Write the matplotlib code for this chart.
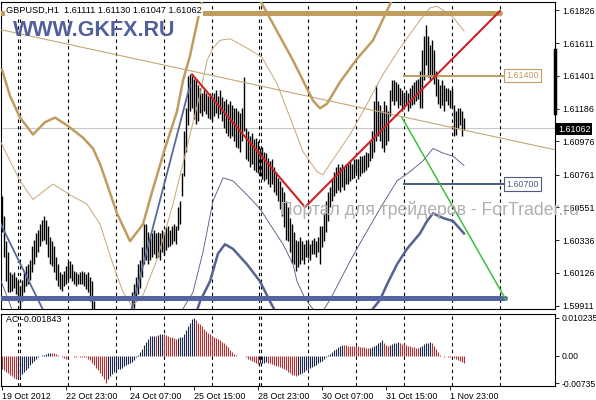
import numpy as np
import matplotlib.pyplot as plt

# GBPUSD H1 bars, bar index 0 = 19 Oct 2012 16:00 (2 px per bar on the chart)
bar_high = [
    1.6062, 1.6049, 1.6033, 1.6026, 1.6013, 1.6012, 1.6013, 1.6010, 1.6007, 1.6004,
    1.6008, 1.6013, 1.6017, 1.6018, 1.6021, 1.6030, 1.6034, 1.6038, 1.6040, 1.6044,
    1.6047, 1.6049, 1.6047, 1.6043, 1.6036, 1.6033, 1.6030, 1.6023, 1.6018, 1.6013,
    1.6012, 1.6014, 1.6017, 1.6020, 1.6020, 1.6018, 1.6014, 1.6013, 1.6012, 1.6013,
    1.6014, 1.6013, 1.6012, 1.6013, 1.6010, 1.6007, 1.5994, 1.5988, 1.5984, 1.5980,
    1.5978, 1.5975, 1.5972, 1.5970, 1.5972, 1.5974, 1.5976, 1.5975, 1.5977, 1.5978,
    1.5980, 1.5979, 1.5981, 1.5983, 1.5985, 1.6000, 1.6005, 1.6010, 1.6018, 1.6021,
    1.6029, 1.6044, 1.6044, 1.6039, 1.6036, 1.6038, 1.6040, 1.6038, 1.6039, 1.6038,
    1.6040, 1.6039, 1.6042, 1.6043, 1.6040, 1.6043, 1.6044, 1.6043, 1.6055, 1.6059,
    1.6077, 1.6104, 1.6119, 1.6140, 1.6141, 1.6140, 1.6138, 1.6137, 1.6134, 1.6132,
    1.6129, 1.6131, 1.6129, 1.6127, 1.6129, 1.6127, 1.6129, 1.6131, 1.6127, 1.6131,
    1.6126, 1.6124, 1.6125, 1.6122, 1.6124, 1.6121, 1.6119, 1.6119, 1.6117, 1.6116,
    1.6119, 1.6139, 1.6106, 1.6104, 1.6101, 1.6103, 1.6099, 1.6100, 1.6098, 1.6093,
    1.6094, 1.6091, 1.6090, 1.6087, 1.6085, 1.6086, 1.6081, 1.6078, 1.6074, 1.6072,
    1.6068, 1.6065, 1.6059, 1.6055, 1.6048, 1.6044, 1.6039, 1.6034, 1.6033, 1.6036,
    1.6033, 1.6031, 1.6034, 1.6033, 1.6031, 1.6034, 1.6035, 1.6033, 1.6036, 1.6043,
    1.6043, 1.6051, 1.6059, 1.6065, 1.6068, 1.6073, 1.6078, 1.6081, 1.6083, 1.6081,
    1.6083, 1.6081, 1.6083, 1.6083, 1.6085, 1.6083, 1.6086, 1.6086, 1.6086, 1.6088,
    1.6088, 1.6089, 1.6091, 1.6090, 1.6098, 1.6104, 1.6124, 1.6134, 1.6124, 1.6121,
    1.6117, 1.6124, 1.6121, 1.6117, 1.6131, 1.6137, 1.6137, 1.6136, 1.6135, 1.6132,
    1.6131, 1.6129, 1.6131, 1.6129, 1.6132, 1.6134, 1.6136, 1.6137, 1.6138, 1.6143,
    1.6157, 1.6166, 1.6173, 1.6166, 1.6160, 1.6163, 1.6157, 1.6143, 1.6138, 1.6134,
    1.6137, 1.6134, 1.6132, 1.6132, 1.6131, 1.6132, 1.6121, 1.6117, 1.6119, 1.6119,
    1.6117, 1.61130,
]
bar_low = [
    1.6039, 1.6023, 1.6007, 1.6000, 1.6000, 1.6001, 1.6003, 1.5999, 1.5994, 1.5990,
    1.5994, 1.6000, 1.6004, 1.6005, 1.6008, 1.6013, 1.6018, 1.6023, 1.6026, 1.6030,
    1.6033, 1.6034, 1.6031, 1.6023, 1.6018, 1.6017, 1.6013, 1.6008, 1.6004, 1.6002,
    1.6001, 1.6004, 1.6005, 1.6008, 1.6009, 1.6007, 1.6005, 1.6004, 1.6005, 1.6005,
    1.6005, 1.6004, 1.6002, 1.6000, 1.5994, 1.5988, 1.5980, 1.5975, 1.5970, 1.5966,
    1.5962, 1.5958, 1.5955, 1.5956, 1.5958, 1.5960, 1.5962, 1.5961, 1.5963, 1.5965,
    1.5966, 1.5967, 1.5968, 1.5970, 1.5972, 1.5986, 1.5990, 1.5994, 1.5999, 1.6003,
    1.6010, 1.6018, 1.6021, 1.6018, 1.6021, 1.6023, 1.6025, 1.6022, 1.6023, 1.6021,
    1.6026, 1.6024, 1.6027, 1.6029, 1.6030, 1.6031, 1.6033, 1.6031, 1.6040, 1.6044,
    1.6062, 1.6075, 1.6091, 1.6108, 1.6117, 1.6119, 1.6112, 1.6109, 1.6111, 1.6116,
    1.6114, 1.6117, 1.6115, 1.6113, 1.6112, 1.6111, 1.6114, 1.6116, 1.6113, 1.6115,
    1.6111, 1.6106, 1.6103, 1.6101, 1.6100, 1.6101, 1.6098, 1.6094, 1.6093, 1.6091,
    1.6098, 1.6104, 1.6086, 1.6085, 1.6081, 1.6083, 1.6079, 1.6078, 1.6077, 1.6075,
    1.6073, 1.6072, 1.6073, 1.6070, 1.6068, 1.6070, 1.6065, 1.6063, 1.6059, 1.6054,
    1.6049, 1.6042, 1.6034, 1.6033, 1.6026, 1.6019, 1.6018, 1.6014, 1.6016, 1.6018,
    1.6021, 1.6018, 1.6023, 1.6022, 1.6021, 1.6025, 1.6025, 1.6023, 1.6026, 1.6018,
    1.6029, 1.6033, 1.6039, 1.6046, 1.6055, 1.6059, 1.6062, 1.6064, 1.6066, 1.6065,
    1.6068, 1.6066, 1.6070, 1.6070, 1.6072, 1.6073, 1.6074, 1.6077, 1.6073, 1.6075,
    1.6077, 1.6078, 1.6079, 1.6081, 1.6085, 1.6087, 1.6091, 1.6098, 1.6101, 1.6098,
    1.6093, 1.6091, 1.6095, 1.6098, 1.6114, 1.6124, 1.6121, 1.6124, 1.6119, 1.6121,
    1.6117, 1.6119, 1.6121, 1.6117, 1.6119, 1.6121, 1.6122, 1.6124, 1.6125, 1.6119,
    1.6119, 1.6137, 1.6147, 1.6139, 1.6137, 1.6140, 1.6135, 1.6127, 1.6122, 1.6119,
    1.6121, 1.6117, 1.6124, 1.6121, 1.6119, 1.6119, 1.6101, 1.6102, 1.6106, 1.6108,
    1.6101, 1.61047,
]

# Accelerator Oscillator, in thousandths
ac_milli = [
    -3.4, -3.9, -4.3, -4.7, -5.1, -5.5, -5.8, -6.1,
    -5.8, -5.4, -4.9, -4.3, -3.7, -3.1, -2.5, -1.9, -1.3, -0.8,
    -0.4, -0.1, 0.2,
    0.4, 0.6, 0.8, 0.9, 0.9, 0.7,
    0.5, 0.3, 0.1, -0.2, -0.5, -0.8,
    -0.2, -0.1, -0.1, -0.2, -0.2, -0.1, -0.2, -0.3, -0.3, -0.4,
    -0.7, -1.2, -1.8, -2.5, -3.2, -3.9, -4.5, -5.3, -6.2, -7.35,
    -6.2, -5.5, -4.8, -4.2, -3.9,
    -3.6, -3.4, -3.1, -2.8, -2.5, -2.2, -1.9, -1.6, -1.0, -0.3,
    0.4, 1.1, 2.0, 2.9, 3.8, 4.7, 5.3,
    5.4, 5.5, 5.5, 5.6, 5.8, 6.0,
    5.8, 5.6, 5.4, 5.2, 5.0, 4.8, 4.7,
    4.8, 5.0, 5.2,
    6.0, 7.0, 8.0, 9.0, 10.0,
    10.235,
    9.6, 9.0, 8.7,
    8.0, 7.4, 6.8, 6.2, 5.8, 5.4,
    5.1, 4.8, 4.5, 4.2, 3.8, 3.4, 2.9, 2.3, 1.6, 1.0,
    0.5, 0.3, 0.1, 0.0, -0.1, -0.1, -0.2, -0.8, -1.1, -1.4, -1.7, -1.9, -2.1,
    -2.0, -1.9, -1.8, -1.7,
    -1.8, -2.0, -2.2, -2.4, -2.6, -2.8, -3.0, -3.3, -3.6, -3.9, -4.3, -4.7, -5.0, -5.2, -5.3,
    -5.1, -4.8, -4.5, -4.2, -3.9, -3.6, -3.3, -3.0, -2.6, -2.3, -2.0, -1.7, -1.3, -0.9, -0.4,
    0.2, 0.6, 1.1, 1.6, 2.0, 2.4, 2.8, 3.0,
    2.9, 2.9, 2.8, 2.8, 2.7, 2.7, 2.6, 2.6, 2.5, 2.4, 2.3, 2.2, 2.1, 2.2, 2.3,
    2.6, 3.0, 3.4, 3.8, 4.2,
    3.5, 2.9, 2.7,
    2.9, 3.1, 3.4, 3.6, 3.8,
    3.6, 3.3, 3.2, 3.0, 2.8, 2.7, 2.5, 2.4, 2.2, 2.1,
    2.4, 2.8, 3.1, 3.4, 3.6, 3.8,
    3.4, 2.8, 1.9, 1.0, 0.2,
    -0.1, -0.2, -0.1, -0.2, -0.3, -0.3,
    -0.6, -0.9, -1.1, -1.3, -1.6, -1.843,
]

# indicator bands, sampled at bar index
band_up_x = [0, 4, 9, 15.5, 21.5, 26.5, 32.5, 40.5, 45.5, 49, 52.5, 57.5, 64, 70.5, 75.5,
             81.5, 87.5, 90.5, 94, 99, 104, 116.5, 129, 145.5, 150.5, 155.5, 159, 162.5,
             169, 177.5, 185.5, 195, 204]
band_up_y = [1.6144, 1.6127, 1.6113, 1.6102, 1.6110, 1.6113, 1.6108, 1.6100, 1.6093, 1.6083,
             1.6070, 1.6051, 1.6033, 1.6044, 1.6067, 1.6093, 1.6117, 1.6137, 1.6153, 1.6183,
             1.6209, 1.6228, 1.6189, 1.6150, 1.6137, 1.6124, 1.6119, 1.6122, 1.6136, 1.6151,
             1.6163, 1.6189, 1.6215]
band_up_in_x = [-1, 4, 9, 15.5, 20.5, 25.5, 34, 42.5, 49, 55.5, 60.5, 65, 70.5, 77.5, 85.5,
                92.5, 99, 102.5, 105.5, 109, 114, 122.5, 130, 137.5, 144, 150.5, 157.5, 160.5,
                164, 174, 180.5, 190.5, 199, 204, 209, 214, 217.5, 222.5, 225.5, 231]
band_up_in_y = [1.6098, 1.6085, 1.6072, 1.6060, 1.6065, 1.6070, 1.6063, 1.6057, 1.6044, 1.6018,
                1.6000, 1.5991, 1.5998, 1.6021, 1.6057, 1.6094, 1.6128, 1.6150, 1.6158, 1.6163,
                1.6164, 1.6158, 1.6152, 1.6135, 1.6113, 1.6091, 1.6078, 1.6076, 1.6083, 1.6102,
                1.6117, 1.6141, 1.6158, 1.6167, 1.6176, 1.6184, 1.6185, 1.6181, 1.6178, 1.6169]
band_lo_x = [90, 96.5, 99, 104, 108, 111.5, 115.5, 122.5, 129, 134, 139, 159, 179, 184, 189,
             192.5, 197.5, 202.5, 209, 212.5, 215.5, 220.5, 225.5, 231]
band_lo_y = [1.5960, 1.5984, 1.5994, 1.6007, 1.6025, 1.6031, 1.6028, 1.6018, 1.6007, 1.5994,
             1.5982, 1.5971, 1.5980, 1.5987, 1.5995, 1.6005, 1.6018, 1.6028, 1.6038, 1.6046,
             1.6051, 1.6048, 1.6046, 1.6038]
band_lo_in_x = [-1, 5.5, 11.5, 49, 74, 89, 95.5, 100.5, 105.5, 110.5, 115.5, 122.5, 129, 135.5,
                140.5, 145.5, 147.5, 151.5, 155.5, 160, 164, 174, 180.5, 189, 197.5, 204, 210.5,
                215.5, 220.5, 225.5, 231]
band_lo_in_y = [1.6009, 1.5987, 1.5971, 1.5964, 1.5967, 1.5986, 1.6000, 1.6026, 1.6059, 1.6074,
                1.6072, 1.6063, 1.6054, 1.6041, 1.6031, 1.6018, 1.6007, 1.5996, 1.5989, 1.5987,
                1.5995, 1.6020, 1.6035, 1.6054, 1.6072, 1.6078, 1.6085, 1.6093, 1.6090, 1.6088,
                1.6082]

# drawn objects
trend_a_x, trend_a_y = [-1, 23], [1.6045, 1.5982]
trend_b_x, trend_b_y = [63, 94], [1.5980, 1.6134]
red_x, red_y = [95, 151.5, 249], [1.6141, 1.6055, 1.6182]
green_x, green_y = [200, 252], [1.6113, 1.5995]
slope_x, slope_y = [-1, 277], [1.6170, 1.6092]
resist_level, support_level = 1.6181, 1.5996
target_levels = [1.61400, 1.60700]
last_price = 1.61062

time_ticks = [0, 32, 64, 96, 128, 160, 192, 224]
time_labels = ["19 Oct 2012", "22 Oct 23:00", "24 Oct 07:00", "25 Oct 15:00",
               "28 Oct 23:00", "30 Oct 07:00", "31 Oct 15:00", "1 Nov 23:00"]
day_separators = [8, 9, 33, 57, 81, 105, 128.5, 129.5, 153, 177, 201, 225, 249]
price_ticks = [1.61826, 1.61611, 1.61401, 1.61186, 1.60976, 1.60761, 1.60551,
               1.60336, 1.60126, 1.59911]
ac_ticks = [0.010235, 0.0, -0.00735]
ac_tick_labels = ["0.010235", "0.00", "-0.00735"]

TAN = '#c09c60'
TAN_THIN = '#c6a877'
SLATE = '#56628f'
SLATE_THIN = '#4a5680'
W, H = 596, 400

plt.rcParams['font.family'] = ['Liberation Sans', 'DejaVu Sans']
fig = plt.figure(figsize=(W / 100, H / 100), dpi=100)
ax = fig.add_axes([1 / W, 1 - 309 / H, 554 / W, 307 / H])
ax2 = fig.add_axes([1 / W, 1 - 386 / H, 554 / W, 72 / H])

idx = np.arange(len(bar_high))
ax.vlines(idx, bar_low, bar_high, color='black', lw=1.0, zorder=2)

ax.axhline(last_price, color='#c8c8c8', lw=0.8, zorder=1)
ax.plot(slope_x, slope_y, color=TAN_THIN, lw=0.8, zorder=3)
ax.plot(band_up_x, band_up_y, color=TAN, lw=1.8, zorder=3)
ax.plot(band_up_in_x, band_up_in_y, color=TAN_THIN, lw=0.7, zorder=3)
ax.plot(band_lo_x, band_lo_y, color=SLATE, lw=1.8, zorder=3)
ax.plot(band_lo_in_x, band_lo_in_y, color=SLATE_THIN, lw=0.6, zorder=3)
ax.plot(trend_a_x, trend_a_y, color='#5a6898', lw=1.3, zorder=3)
ax.plot(trend_b_x, trend_b_y, color='#5a6898', lw=1.3, zorder=3)
ax.plot([-1, 249], [resist_level] * 2, color=TAN, lw=3.6, solid_capstyle='round', zorder=4)
ax.plot([-1, 251.5], [support_level] * 2, color='#5563a0', lw=3.6,
        solid_capstyle='round', zorder=4)
ax.plot(red_x, red_y, color='#cc2222', lw=1.5, solid_capstyle='round', zorder=5)
ax.plot(green_x, green_y, color='#3fbf3f', lw=1.1, zorder=5)

for lvl, col in zip(target_levels, [TAN, '#4a5a80']):
    ax.plot([201, 251.5], [lvl, lvl], color=col, lw=1.4, zorder=4)
    ax.text(252, lvl, f"{lvl:.5f}", color=col, fontsize=6.4, va='center', ha='left',
            bbox=dict(fc='white', ec=col, lw=0.8, pad=1.5), zorder=6)

for a in (ax, ax2):
    for s in day_separators:
        a.axvline(s, color='black', lw=0.8, ls=(0, (3, 3)), zorder=1.5)
    a.set_xlim(-0.5, 276.5)
    for sp in a.spines.values():
        sp.set_color('black')
        sp.set_linewidth(0.8)
    a.yaxis.tick_right()
    a.tick_params(axis='y', length=3, width=0.6, pad=2, labelsize=6.4)

ax.set_ylim(1.59891, 1.61878)
ax.set_yticks(price_ticks)
ax.set_yticklabels([f"{p:.5f}" for p in price_ticks])
ax.set_xticks([])
# marker on the price axis
ax.plot([276.5, 276.5], [1.6157, 1.6116], color='black', lw=2.5, clip_on=False, zorder=6)

ac = np.array(ac_milli) * 1e-3
ac_cols = ['#b53030' if k == 0 or ac[k] <= ac[k - 1] else '#1b2748' for k in range(len(ac))]
ax2.vlines(np.arange(len(ac)), 0, ac, colors=ac_cols, lw=0.8, zorder=2)
ax2.set_ylim(-0.00808, 0.01131)
ax2.set_yticks(ac_ticks)
ax2.set_yticklabels(ac_tick_labels)
ax2.tick_params(axis='y', pad=1.5, labelsize=6.2)
ax2.set_xticks(time_ticks)
ax2.set_xticklabels(time_labels, ha='left')
ax2.tick_params(axis='x', length=3, width=0.6, pad=1, labelsize=6.4)

fig.text(6 / W, 1 - 10 / H, "GBPUSD,H1  1.61111 1.61130 1.61047 1.61062", fontsize=6.6,
         va='center', ha='left', bbox=dict(fc='white', ec='none', pad=1))
fig.text(13 / W, 1 - 31 / H, "WWW.GKFX.RU", fontsize=15.5, fontweight='bold',
         color='#51609a', va='center', ha='left')
fig.text(280 / W, 1 - 215 / H, "Портал для трейдеров - ForTrader.ru", fontsize=12.7,
         color='#b0b0b0', va='baseline', ha='left')
fig.text(6 / W, 1 - 320 / H, "AC -0.001843", fontsize=6.4, va='center', ha='left')
fig.text(558 / W, 1 - 129 / H, f"{last_price:.5f}", fontsize=6.4, color='white',
         va='center', ha='left', bbox=dict(fc='black', ec='none', pad=1.2))

fig.savefig('out.png', dpi=100)
